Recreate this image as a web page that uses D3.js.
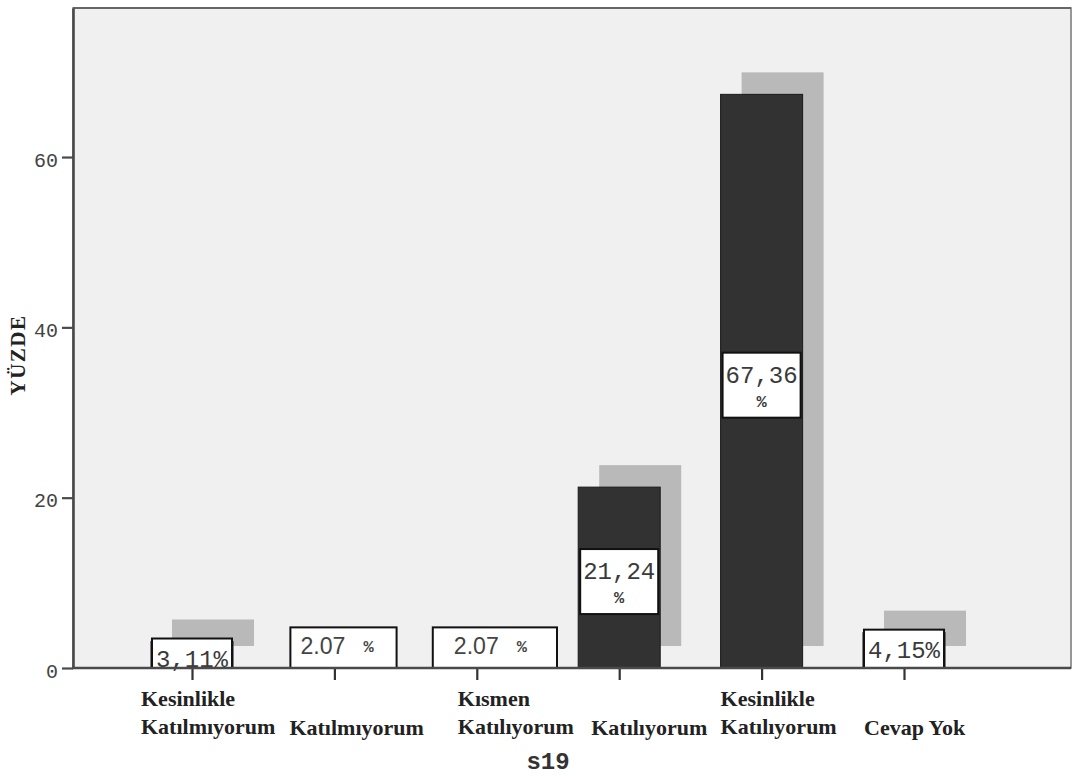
<!DOCTYPE html>
<html>
<head>
<meta charset="utf-8">
<script src="https://cdn.jsdelivr.net/npm/d3@7"></script>
<style>
  body { margin: 0; background: #fff; }
  svg { display: block; }
</style>
</head>
<body>
<svg id="chart" width="1073" height="776"></svg>
<script>
// s19 answer distribution (percent of respondents)
const categories = [
  "Kesinlikle Katılmıyorum",
  "Katılmıyorum",
  "Kısmen Katılıyorum",
  "Katılıyorum",
  "Kesinlikle Katılıyorum",
  "Cevap Yok"
];
const categoryLines = [
  ["Kesinlikle", "Katılmıyorum"],
  ["Katılmıyorum"],
  ["Kısmen", "Katılıyorum"],
  ["Katılıyorum"],
  ["Kesinlikle", "Katılıyorum"],
  ["Cevap Yok"]
];
const percents = [3.11, 2.07, 2.07, 21.24, 67.36, 4.15];
const valueLabels = ["3,11%", "2.07 %", "2.07 %", "21,24 %", "67,36 %", "4,15%"];
const yTicks = [0, 20, 40, 60];

// ---- layout ----
const plot = { left: 73, top: 8, right: 1071, bottom: 668 };
const labelShift = [-51, -45, -19, -28, -41, -40];   // category label start, relative to tick
const labelLayout = [
  { kind: "inside" },
  { kind: "flat", padL: 10, padR: 23 },
  { kind: "flat", padL: 21, padR: 30 },
  { kind: "mid" },
  { kind: "mid" },
  { kind: "inside" }
];
const depth = { dx: 21, dy: -22 };
const serif = "'Liberation Serif', 'Times New Roman', serif";
const mono = "'Liberation Mono', 'Courier New', monospace";
const sans = "'Liberation Sans', Arial, sans-serif";

const svg = d3.select("#chart");

const y = d3.scaleLinear().domain([0, 77.5]).range([plot.bottom, plot.top]);
const x = d3.scalePoint().domain(categories).range([192, 904]);
const bw = x.step() * 0.576;

// plot background and frame
svg.append("rect")
  .attr("x", plot.left).attr("y", plot.top)
  .attr("width", plot.right - plot.left).attr("height", plot.bottom - plot.top)
  .attr("fill", "#f0f0f0")
  .attr("stroke", "#777").attr("stroke-width", 1.5);
svg.append("line")
  .attr("x1", plot.left).attr("x2", plot.right)
  .attr("y1", plot.top).attr("y2", plot.top)
  .attr("stroke", "#666").attr("stroke-width", 2.2);

const data = categories.map((c, i) => ({ c, v: percents[i], label: valueLabels[i], layout: labelLayout[i] }));

// bar depth shadows
svg.append("g").selectAll("rect").data(data).join("rect")
  .attr("x", d => x(d.c) - bw / 2 + depth.dx)
  .attr("y", d => y(d.v) + depth.dy)
  .attr("width", bw)
  .attr("height", d => y(0) - y(d.v))
  .attr("fill", "#b9b9b9");

// bars
svg.append("g").selectAll("rect").data(data).join("rect")
  .attr("x", d => x(d.c) - bw / 2)
  .attr("y", d => y(d.v))
  .attr("width", bw)
  .attr("height", d => y(0) - y(d.v))
  .attr("fill", "#323232")
  .attr("stroke", "#1a1a1a").attr("stroke-width", 1);

// value label boxes
const lab = svg.append("g");
data.forEach(d => {
  const g = lab.append("g");
  const cx = x(d.c);
  const left = cx - bw / 2;
  if (d.layout.kind === "mid") {
    const h = 65;
    const top = (y(d.v) + y(0)) / 2 + 4 - h / 2;
    g.append("rect").attr("x", cx - (bw - 4) / 2).attr("y", top)
      .attr("width", bw - 4).attr("height", h)
      .attr("fill", "#fff").attr("stroke", "#111").attr("stroke-width", 2);
    const parts = d.label.split(" ");
    g.append("text").attr("x", cx).attr("y", top + 30)
      .attr("text-anchor", "middle").attr("font-family", mono).attr("font-size", 24)
      .attr("fill", "#3a3a3a").text(parts[0]);
    g.append("text").attr("x", cx).attr("y", top + 54)
      .attr("text-anchor", "middle").attr("font-family", mono).attr("font-size", 17)
      .attr("font-weight", "bold").attr("fill", "#3a3a3a").text(parts[1]);
  } else if (d.layout.kind === "inside") {
    const top = y(d.v) - 3;
    g.append("rect").attr("x", left + 1).attr("y", top)
      .attr("width", bw - 2).attr("height", y(0) - top)
      .attr("fill", "#fff").attr("stroke", "#111").attr("stroke-width", 2);
    g.append("text").attr("x", cx).attr("y", top + 28)
      .attr("text-anchor", "middle").attr("font-family", mono).attr("font-size", 24)
      .attr("fill", "#3a3a3a").text(d.label);
  } else {
    // flat box sits on the axis and hides the short bar and its shadow
    const top = y(d.v) + depth.dy - 1;
    const bx = left - 3;
    const box = g.append("rect").attr("x", bx).attr("y", top).attr("height", y(0) - top)
      .attr("fill", "#fff").attr("stroke", "#111").attr("stroke-width", 2);
    const parts = d.label.split(" ");
    const t = g.append("text").attr("x", bx + d.layout.padL).attr("y", top + 27)
      .attr("fill", "#444");
    t.append("tspan").attr("font-family", sans).attr("font-size", 24)
      .attr("textLength", 45).attr("lengthAdjust", "spacingAndGlyphs").text(parts[0]);
    t.append("tspan").attr("dx", 18).attr("dy", -2)
      .attr("font-family", mono).attr("font-size", 17).attr("font-weight", "bold").text(parts[1]);
    const tw = t.node().getComputedTextLength() + 18;
    box.attr("width", d.layout.padL + tw + d.layout.padR);
  }
});

// y axis
const yAxis = svg.append("g")
  .attr("transform", `translate(${plot.left},0)`)
  .call(d3.axisLeft(y).tickValues(yTicks).tickSize(11).tickSizeOuter(0).tickPadding(4));
yAxis.select(".domain").attr("stroke", "#4a4a4a").attr("stroke-width", 2.6);
yAxis.selectAll(".tick line").attr("stroke", "#4a4a4a").attr("stroke-width", 2.2);
yAxis.selectAll(".tick text")
  .attr("font-family", mono).attr("font-size", 20).attr("fill", "#444").attr("dy", "0.45em");

// x axis
const xAxis = svg.append("g")
  .attr("transform", `translate(0,${plot.bottom})`)
  .call(d3.axisBottom(x).tickSize(12).tickSizeOuter(0).tickFormat(() => ""));
xAxis.select(".domain").remove();
xAxis.selectAll(".tick line").attr("stroke", "#333").attr("stroke-width", 2.2);
svg.append("line")
  .attr("x1", plot.left - 1).attr("x2", plot.right)
  .attr("y1", plot.bottom).attr("y2", plot.bottom)
  .attr("stroke", "#4a4a4a").attr("stroke-width", 2.6);

// category labels
const cl = svg.append("g")
  .attr("font-family", serif).attr("font-weight", "bold").attr("font-size", 22).attr("fill", "#222");
categories.forEach((c, i) => {
  const lines = categoryLines[i];
  const t = cl.append("text").attr("x", x(c) + labelShift[i]);
  lines.forEach((ln, j) => {
    const base = lines.length === 2 ? (j === 0 ? 706 : 734) : 735;
    t.append("tspan").attr("x", x(c) + labelShift[i]).attr("y", base).text(ln);
  });
});

// axis titles
svg.append("text")
  .attr("x", (x.range()[0] + x.range()[1]) / 2).attr("y", 769)
  .attr("text-anchor", "middle")
  .attr("font-family", mono).attr("font-weight", "bold").attr("font-size", 24)
  .attr("fill", "#333").text("s19");

svg.append("text")
  .attr("transform", "translate(25,355) rotate(-90)")
  .attr("text-anchor", "middle")
  .attr("font-family", serif).attr("font-weight", "bold").attr("font-size", 21)
  .attr("letter-spacing", 1.5)
  .attr("fill", "#222").text("YÜZDE");
</script>
</body>
</html>
